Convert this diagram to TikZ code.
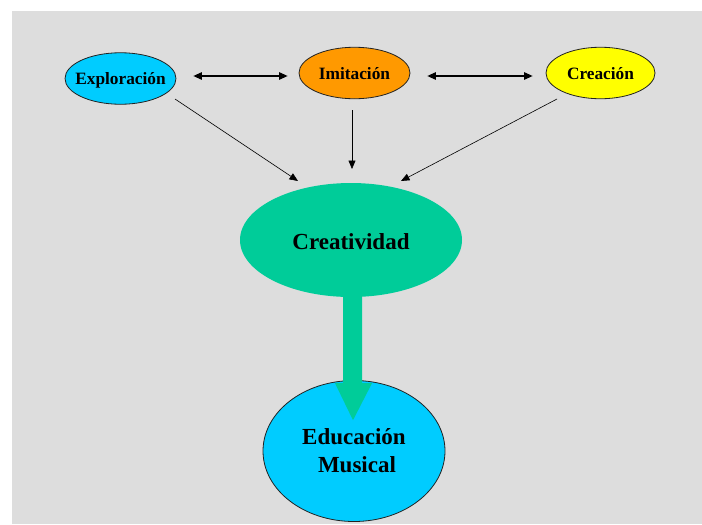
\documentclass[tikz,border=0pt]{standalone}
\usepackage{fontspec}
\setmainfont{Liberation Serif}
\usetikzlibrary{arrows.meta,shapes.geometric}
\definecolor{bggray}{HTML}{DDDDDD}
\definecolor{skyc}{HTML}{00CCFF}
\definecolor{orangec}{HTML}{FF9900}
\definecolor{yellowc}{HTML}{FFFF00}
\definecolor{greenc}{HTML}{00CC99}
\definecolor{edgec}{HTML}{222222}
\tikzset{
  smallell/.style={ellipse,draw=edgec,line width=0.8pt,inner sep=0pt,
    minimum width=111pt,minimum height=51.5pt,
    font=\fontsize{17.3}{20}\selectfont\bfseries,text height=12.5pt,text depth=0pt},
  conn/.style={draw=black,line width=0.6pt,-{Triangle[length=8.5pt,width=7pt]}},
  biconn/.style={draw=black,line width=1.1pt,{Triangle[length=8.5pt,width=7.5pt]}-{Triangle[length=8.5pt,width=7.5pt]}}
}
\begin{document}
\begin{tikzpicture}[x=1pt,y=-1pt]
\useasboundingbox (0,0) rectangle (702,525);
\fill[white] (0,0) rectangle (702,525);
\fill[bggray] (12,11) rectangle (702,524);
% top nodes
\node[smallell,fill=skyc] (expl) at (120.5,78.5) {\makebox[0pt]{Exploración}};
\node[smallell,fill=orangec] (imit) at (354.5,73) {\makebox[0pt]{Imitación}};
\node[smallell,fill=yellowc,minimum width=109pt] (crea) at (600.5,73) {\makebox[0pt]{Creación}};
% centre node
\node[ellipse,fill=greenc,inner sep=0pt,minimum width=222pt,minimum height=114pt,
  font=\fontsize{23}{28}\selectfont\bfseries,text height=18pt,text depth=0pt]
  (crtv) at (351,240) {\makebox[0pt]{Creatividad}};
% bottom node
\node[ellipse,fill=skyc,draw=edgec,line width=0.8pt,inner sep=0pt,
  minimum width=182pt,minimum height=141pt,align=center,
  font=\fontsize{23}{28}\selectfont\bfseries]
  (edu) at (354,451) {Educación\\ \hspace*{6pt}Musical};
% free ends
\coordinate (s1) at ([shift={(54.5,20.5)}]expl.center);
\coordinate (t1) at (298,181);
\coordinate (s3) at ([shift={(-43.5,26)}]crea.center);
\coordinate (t3) at (401,181);
\coordinate (t2) at (352,169);
% connectors
\draw[biconn] ([shift={(17,-2.5)}]expl.east) -- ([shift={(-11,3)}]imit.west);
\draw[biconn] ([shift={(17,3)}]imit.east) -- ([shift={(-13,3)}]crea.west);
\draw[conn] (s1) -- (t1);
\draw[conn] ([shift={(-2.5,11)}]imit.south) -- (t2);
\draw[conn] (s3) -- (t3);
% big arrow from Creatividad to Educacion
\fill[greenc] ([shift={(-8,-8)}]crtv.south) -- ([shift={(11,-8)}]crtv.south)
  -- ([shift={(11,86)}]crtv.south) -- ([shift={(21,86)}]crtv.south)
  -- ([shift={(2,123)}]crtv.south) -- ([shift={(-16,86)}]crtv.south)
  -- ([shift={(-8,86)}]crtv.south) -- cycle;
\end{tikzpicture}
\end{document}
